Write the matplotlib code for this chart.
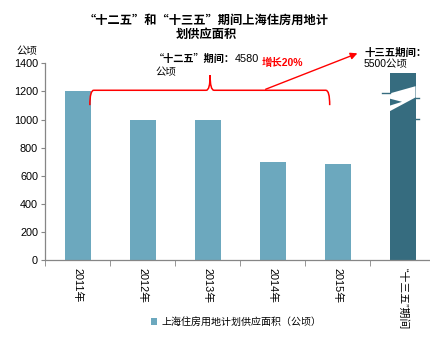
import matplotlib
matplotlib.use("Agg")
import matplotlib.pyplot as plt
from matplotlib.patches import Polygon, PathPatch, Patch
from matplotlib.path import Path

plt.rcParams['font.family'] = ['Liberation Sans', 'Noto Sans CJK SC', 'DejaVu Sans']
CJK = ['Noto Sans CJK SC', 'Liberation Sans', 'DejaVu Sans']

categories = ["2011年", "2012年", "2013年", "2014年", "2015年", "“十三五”期间"]
values = [1200, 1000, 1000, 700, 680, 1330]
bar_colors = ["#6CA8BE"] * 5 + ["#366C7F"]
yticks = [0, 200, 400, 600, 800, 1000, 1200, 1400]
title = "“十二五”和“十三五”期间上海住房用地计\n划供应面积"
legend_label = "上海住房用地计划供应面积（公顷）"

W, H = 430, 342
fig = plt.figure(figsize=(W / 100, H / 100), dpi=100)

def fx(px):
    return px / W

def fy(py):
    return 1 - py / H

ax = fig.add_axes([fx(45), fy(260), fx(435) - fx(45), fy(63.3) - fy(260)])
x = list(range(len(categories)))
bw = 0.4
ax.bar(x, values, width=bw, color=bar_colors, zorder=2)
ax.set_xlim(-0.5, len(categories) - 0.5)
ax.set_ylim(0, 1400)
ax.set_yticks(yticks)
ax.set_yticklabels([str(v) for v in yticks], fontsize=7.8)
ax.set_xticks(x)
ax.set_xticklabels(categories, rotation=270, fontsize=7.8, va='top', ha='center')
ax.set_xticks([i - 0.5 for i in range(len(categories) + 1)], minor=True)
ax.tick_params(axis='x', which='major', length=0, pad=6)
ax.tick_params(axis='x', which='minor', length=4, color='#868686', direction='out')
ax.tick_params(axis='y', length=3, color='#868686', pad=2)
for s in ['top', 'right']:
    ax.spines[s].set_visible(False)
for s in ['left', 'bottom']:
    ax.spines[s].set_color('#868686')
    ax.spines[s].set_linewidth(0.9)

# break mark on the last bar
xi = len(categories) - 1
L, R = xi - bw / 2, xi + bw / 2
brk = [(L, 1185), (R, 1237), (R, 1157), (L, 1058), (L, 1098), (L + 0.48 * bw, 1126), (L, 1149)]
ax.add_patch(Polygon(brk, closed=True, facecolor='white', edgecolor='none', zorder=3))
ax.plot([L - 0.12, L], [1187, 1187], color='#366C7F', lw=1, zorder=3)
ax.plot([R, R + 0.05], [1155, 1155], color='#366C7F', lw=1, zorder=3, clip_on=False)
ax.plot([R, R + 0.05], [1002, 1002], color='#366C7F', lw=1, zorder=3, clip_on=False)

# red brace
yb, yend, ypk = 1208, 1102, 1315
xl, xr, xm = 0.19, 3.88, 2.04
verts = [(xl, yend), (xl, yb), (xl + 0.06, yb),
         (xm - 0.06, yb), (xm, yb), (xm, ypk), (xm, yb), (xm + 0.06, yb),
         (xr - 0.06, yb), (xr, yb), (xr, yend)]
codes = [Path.MOVETO, Path.CURVE3, Path.CURVE3,
         Path.LINETO, Path.CURVE3, Path.CURVE3, Path.CURVE3, Path.CURVE3,
         Path.LINETO, Path.CURVE3, Path.CURVE3]
ax.add_patch(PathPatch(Path(verts, codes), facecolor='none', edgecolor='red', lw=1.1, zorder=4, clip_on=False))
ax.annotate("", xy=(4.346, 1478), xytext=(2.854, 1208),
            arrowprops=dict(arrowstyle='-|>', color='red', lw=1.0, mutation_scale=10),
            annotation_clip=False, zorder=4)

# texts
fig.text(fx(206), fy(27), title, ha='center', va='center', fontsize=8.8, fontweight='bold',
         linespacing=1.1, multialignment='center', family=CJK)
fig.text(fx(27), fy(51), "公顷", ha='center', va='center', fontsize=7.5)
fig.text(fx(235), fy(59), "“十二五”期间：", ha='right', va='center', fontsize=7.3,
         fontweight='bold', family=CJK)
fig.text(fx(235), fy(59), "4580", ha='left', va='center', fontsize=7.8)
fig.text(fx(155), fy(72), "公顷", ha='left', va='center', fontsize=7.5)
fig.text(fx(262), fy(62.5), "增长20%", ha='left', va='center', fontsize=7.5, fontweight='bold', color='red')
fig.text(fx(364), fy(52.5), "十三五期间：", ha='left', va='center', fontsize=7.5, fontweight='bold')
fig.text(fx(364), fy(64.5), "5500公顷", ha='left', va='center', fontsize=7.5)

fig.legend(handles=[Patch(facecolor="#6CA8BE", edgecolor='none', label=legend_label)],
           loc='center', bbox_to_anchor=(fx(236), fy(322)), frameon=False, fontsize=7.2,
           handlelength=0.6, handleheight=0.6, handletextpad=0.4, borderpad=0)

fig.savefig("out.png", dpi=100)
